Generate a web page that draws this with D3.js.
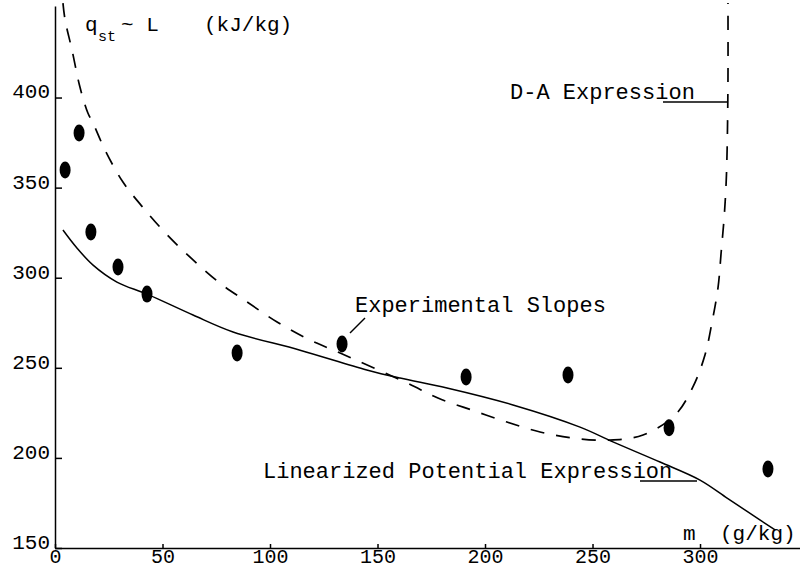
<!DOCTYPE html>
<html>
<head>
<meta charset="utf-8">
<script src="https://cdn.jsdelivr.net/npm/d3@7"></script>
<style>
  html, body { margin: 0; padding: 0; background: #fff; }
  svg { display: block; }
  text { font-family: "Liberation Mono", "DejaVu Sans Mono", monospace; fill: #000; }
</style>
</head>
<body>
<svg id="chart" width="800" height="568"></svg>
<script>
// ---- data ----
const xTicks = [0, 50, 100, 150, 200, 250, 300];
const yTicks = [150, 200, 250, 300, 350, 400];

// Experimental slopes (markers)
const expM = [4.7, 11.2, 16.7, 29.3, 42.8, 84.7, 133.5, 191.2, 238.6, 285.6, 331.6];
const expQ = [359.8, 380.3, 325.4, 306.0, 290.9, 258.2, 263.2, 244.9, 246.0, 216.8, 193.8];

// Linearized Potential Expression (solid)
const linM = [3.7, 10.2, 17.7, 28.8, 42.8, 64.2, 82.8, 114, 145, 160.5, 182.3, 213, 244.2, 259.5, 281.4, 300, 312.6, 321.9, 334.9];
const linQ = [326.5, 316.5, 307.0, 297.6, 290.9, 279.3, 269.9, 259.8, 248.8, 244.3, 238.8, 229.4, 217.1, 208.9, 197.7, 187.7, 177.7, 170.3, 160.0];

// D-A Expression (dashed)
const daM = [3.7, 4.7, 7.9, 11.6, 15.3, 17.7, 23.3, 31.6, 40.9, 52.1, 64.2, 76.7, 89.3, 103.3, 118.6, 132.6, 163.7, 178.1, 194, 210.2, 225.6, 240.9, 258.1, 273.5, 288.4, 296.7, 302.3, 305.6, 308.4, 309.8, 311.2, 312.1, 312.6, 313, 313];
const daQ = [452.4, 443.0, 426.4, 405.8, 391.4, 385.8, 370.8, 353.1, 339.0, 323.9, 309.9, 297.0, 286.6, 275.4, 265.4, 258.2, 241.6, 233.2, 226.5, 219.9, 214.4, 211.0, 209.9, 212.7, 223.8, 239.4, 257.1, 275.4, 294.8, 313.7, 333.2, 351.4, 370.8, 409.7, 452.4];

// ---- drawing ----
const svg = d3.select("#chart");
const x = d3.scaleLinear().domain([0, 346.5]).range([55, 800]);
const y = d3.scaleLinear().domain([150, 450.8]).range([548, 6]);

// axes
const xAxis = svg.append("g").attr("transform", `translate(0,${y(150)})`)
  .call(d3.axisBottom(x).tickValues(xTicks).tickSizeInner(-4).tickSizeOuter(0).tickPadding(1));
xAxis.selectAll("text").attr("font-size", 20).attr("font-family", null);
const yAxis = svg.append("g").attr("transform", `translate(${x(0)},0)`)
  .call(d3.axisLeft(y).tickValues(yTicks).tickSizeInner(-7).tickSizeOuter(0).tickPadding(5));
yAxis.selectAll("text").attr("font-size", 21).attr("font-family", null).attr("dy", "0.02em");
svg.selectAll(".domain, .tick line").attr("stroke", "#000").attr("stroke-width", 1.5);

const toPts = (ms, qs) => ms.map((m, i) => [m, qs[i]]);
const line = d3.line().x(d => x(d[0])).y(d => y(d[1])).curve(d3.curveCatmullRom.alpha(0.5));

// D-A dashed
svg.append("path").datum(toPts(daM, daQ))
  .attr("d", line).attr("fill", "none").attr("stroke", "#000")
  .attr("stroke-width", 1.7).attr("stroke-dasharray", "14,12");

// linearized solid
svg.append("path").datum(toPts(linM, linQ))
  .attr("d", line).attr("fill", "none").attr("stroke", "#000").attr("stroke-width", 1.5);

// markers
svg.append("g").selectAll("ellipse").data(toPts(expM, expQ)).join("ellipse")
  .attr("cx", d => x(d[0])).attr("cy", d => y(d[1]))
  .attr("rx", 5.5).attr("ry", 8.5).attr("fill", "#000");

// annotations
svg.append("text").attr("x", 85).attr("y", 31).attr("font-size", 21).text("q");
svg.append("text").attr("x", 98).attr("y", 41).attr("font-size", 15).text("st");
svg.append("text").attr("x", 121).attr("y", 31).attr("font-size", 21).text("~ L");
svg.append("text").attr("x", 204).attr("y", 31).attr("font-size", 21).text("(kJ/kg)");

svg.append("text").attr("x", 510).attr("y", 99).attr("font-size", 22).text("D-A Expression");
svg.append("line").attr("x1", 663).attr("x2", 728).attr("y1", 102).attr("y2", 102)
  .attr("stroke", "#000").attr("stroke-width", 1.5);

svg.append("text").attr("x", 355).attr("y", 312).attr("font-size", 22).text("Experimental Slopes");
svg.append("line").attr("x1", 365).attr("y1", 318).attr("x2", 350).attr("y2", 333)
  .attr("stroke", "#000").attr("stroke-width", 1.5);

svg.append("text").attr("x", 263).attr("y", 478).attr("font-size", 22).text("Linearized Potential Expression");
svg.append("line").attr("x1", 640).attr("x2", 697).attr("y1", 481).attr("y2", 481)
  .attr("stroke", "#000").attr("stroke-width", 1.5);

svg.append("text").attr("x", 683).attr("y", 540).attr("font-size", 21).text("m");
svg.append("text").attr("x", 720).attr("y", 540).attr("font-size", 21).text("(g/kg)");
</script>
</body>
</html>
